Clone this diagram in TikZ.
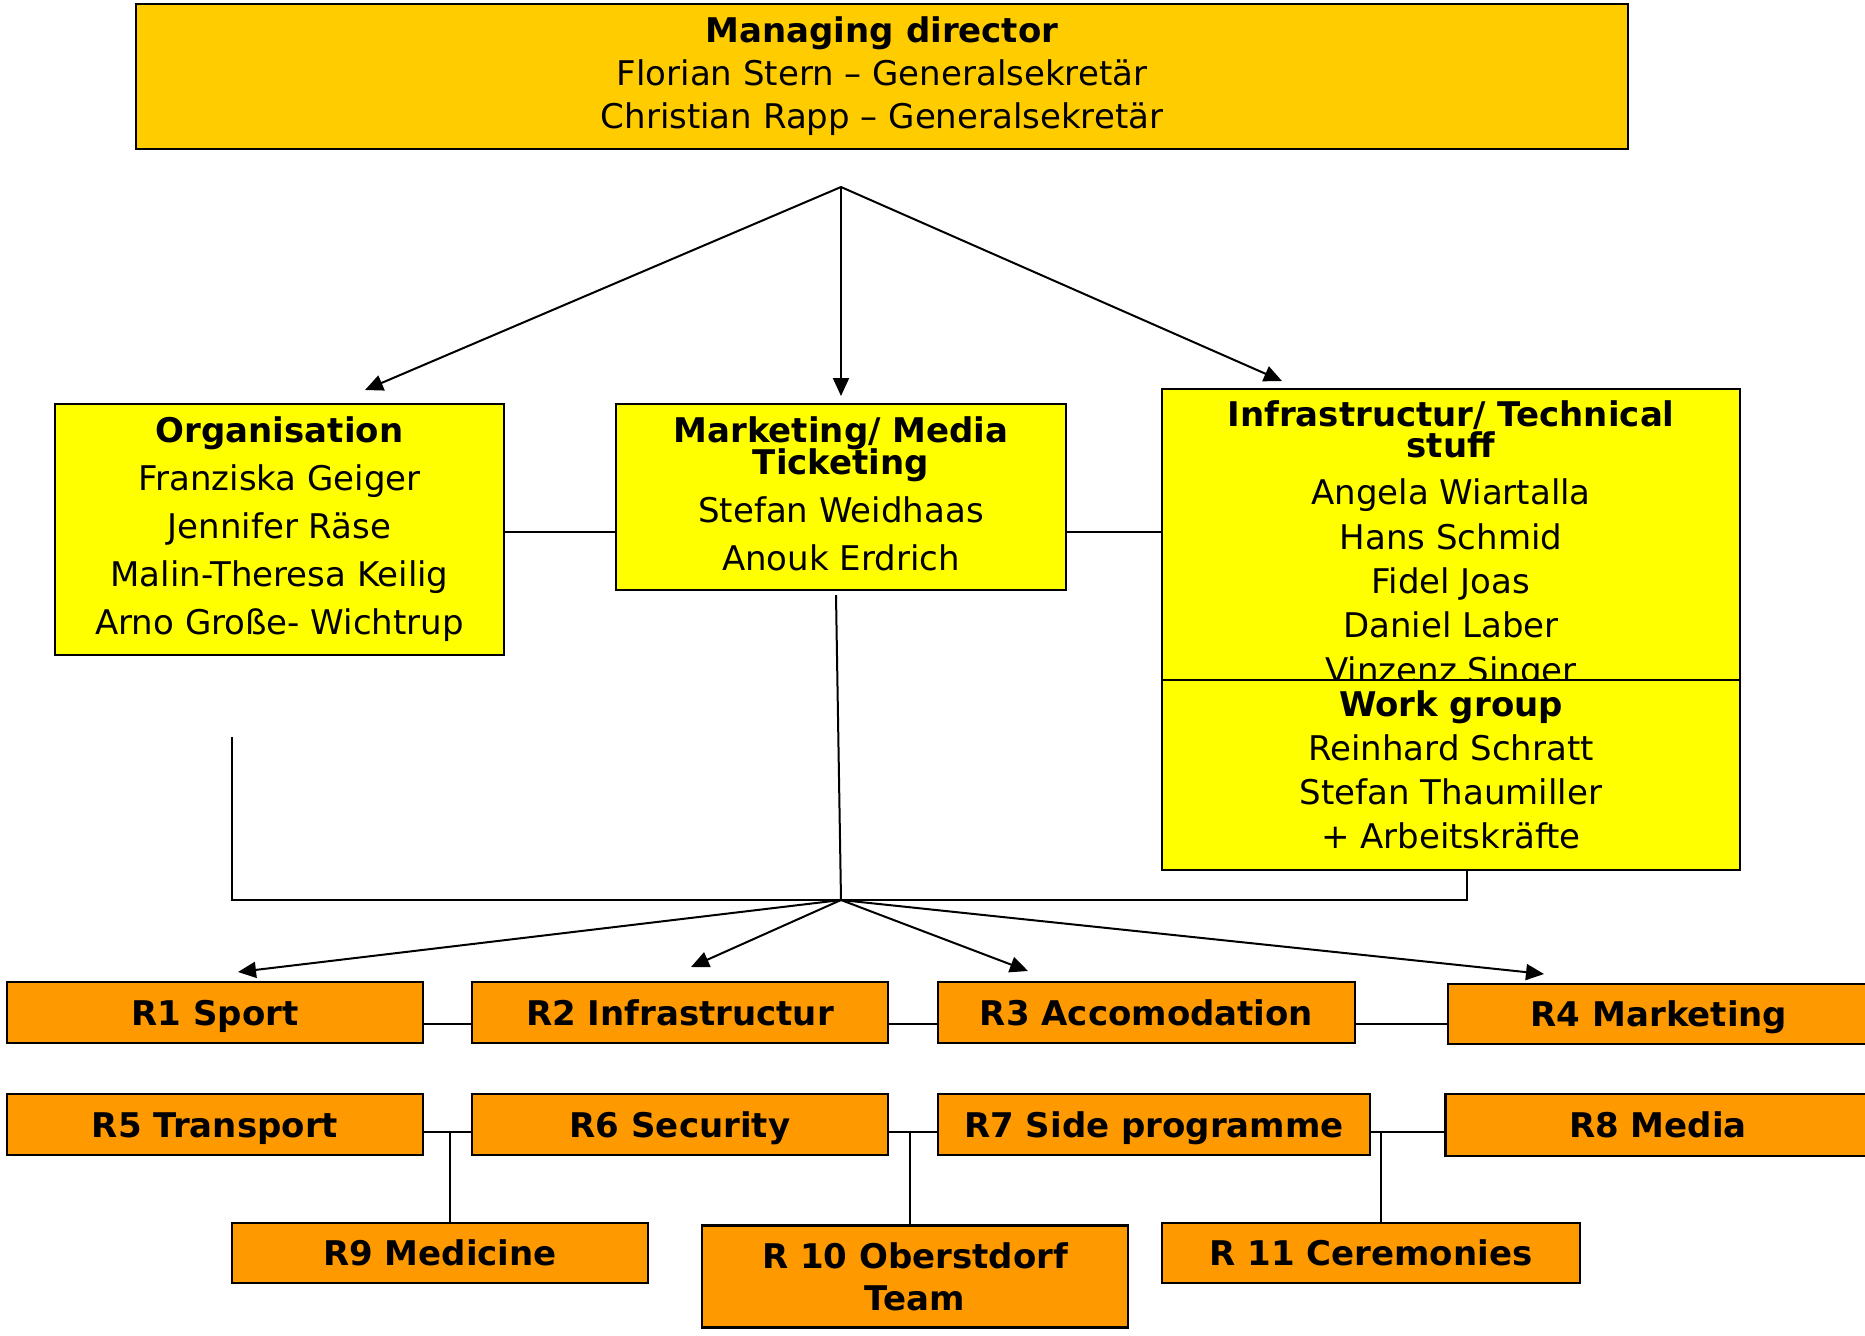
\documentclass[tikz,border=0pt]{standalone}
\usepackage{fontspec}
\setmainfont{DejaVu Sans}
\usetikzlibrary{arrows.meta}
\definecolor{topgold}{HTML}{FFCC00}
\definecolor{yel}{HTML}{FFFF00}
\definecolor{org}{HTML}{FF9900}
\tikzset{
  basebox/.style={draw=black, line width=1.2pt, inner sep=0pt, outer sep=0pt, align=center,
    font=\fontsize{17}{24}\selectfont},
  topbox/.style={basebox, fill=topgold, font=\fontsize{17}{21.5}\selectfont},
  ybox/.style={basebox, fill=yel},
  rboxml/.style={basebox, fill=org, font=\bfseries\fontsize{17}{21}\selectfont},
  rbox/.style={rboxml, text height=16pt, text depth=3.2pt},
  conn/.style={draw=black, line width=1pt},
  arr/.style={conn, -{Triangle[length=9pt,width=8pt]}},
}
\begin{document}
\begin{tikzpicture}[x=0.5pt, y=-0.5pt]
\useasboundingbox (0,0) rectangle (1865,1335);

% top
\node[topbox, minimum width=746pt, minimum height=72.5pt] (md) at (882,76.5)
  {\textbf{Managing director}\\Florian Stern – Generalsekretär\\Christian Rapp – Generalsekretär};

% second level
\node[ybox, minimum width=224.5pt, minimum height=125.5pt] (orga) at (279.5,529.5)
  {\textbf{Organisation}\\Franziska Geiger\\Jennifer Räse\\Malin-Theresa Keilig\\Arno Große- Wichtrup};
\node[ybox, minimum width=225pt, minimum height=93pt] (mkt) at (841,497) {};
\node[align=center, anchor=north, inner sep=0pt, font=\fontsize{17}{24}\selectfont] (mkttext) at (841,416)
  {\textbf{Marketing/ Media}\\[-8pt]\textbf{Ticketing}\\Stefan Weidhaas\\Anouk Erdrich};
\node[ybox, minimum width=289pt, minimum height=179pt] (infra) at (1451,568) {};
\node[align=center, anchor=north, inner sep=0pt, font=\fontsize{17}{22.2}\selectfont] (infratext) at (1451,400)
  {\textbf{Infrastructur/ Technical}\\[-6.7pt]\textbf{stuff}\\[1.5pt]Angela Wiartalla\\Hans Schmid\\Fidel Joas\\Daniel Laber\\Vinzenz Singer};
\node[ybox, minimum width=289pt, minimum height=95pt] (wg) at (1451,775) {};
\node[align=center, anchor=north, inner sep=0pt, font=\fontsize{17}{22}\selectfont] (wgtext) at (1451,690)
  {\textbf{Work group}\\Reinhard Schratt\\Stefan Thaumiller\\+ Arbeitskräfte};

% R boxes
\node[rbox, minimum width=208pt, minimum height=30.5pt] (r1) at (215,1012.5) {R1 Sport};
\node[rbox, minimum width=208pt, minimum height=30.5pt] (r2) at (680,1012.5) {R2 Infrastructur};
\node[rbox, minimum width=208.5pt, minimum height=30.5pt] (r3) at (1146.5,1012.5) {R3 Accomodation};
\node[rbox, minimum width=211pt, minimum height=30pt] (r4) at (1659,1014) {R4 Marketing};
\node[rbox, minimum width=208pt, minimum height=30.5pt] (r5) at (215,1124.5) {R5 Transport};
\node[rbox, minimum width=208pt, minimum height=30.5pt] (r6) at (680,1124.5) {R6 Security};
\node[rbox, minimum width=216pt, minimum height=30.5pt] (r7) at (1154,1124.5) {R7 Side programme};
\node[rbox, minimum width=212.5pt, minimum height=31pt] (r8) at (1658,1125) {R8 Media};
\node[rbox, minimum width=208pt, minimum height=30pt] (r9) at (440,1253) {R9 Medicine};
\node[rboxml, minimum width=213pt, minimum height=51pt] (r10) at (915,1276.5) {R 10 Oberstdorf\\Team};
\node[rbox, minimum width=209pt, minimum height=30pt] (r11) at (1371,1253) {R 11 Ceremonies};

% coordinates
\coordinate (hubtop) at (841,187);
\coordinate (a1) at (365,390);
\coordinate (a2) at (841,396);
\coordinate (a3) at (1282,381);
\coordinate (mktbot) at (836,595);
\coordinate (hub) at (841,900);
\coordinate (brl) at (232,737);
\coordinate (brr) at (1467,900);
\coordinate (b1) at (238,972);
\coordinate (b2) at (691,967);
\coordinate (b3) at (1028,971);
\coordinate (b4) at (1544,974);
\coordinate (j1) at (450,1132);
\coordinate (j2) at (910,1132);
\coordinate (j3) at (1381,1132);

% top arrows
\draw[arr] (hubtop) -- (a1);
\draw[arr] (hubtop) -- (a2);
\draw[arr] (hubtop) -- (a3);

% horizontal links level 2
\draw[conn] ([yshift=-1pt]orga.east) -- ([yshift=-1pt]orga.east -| mkt.west);
\draw[conn] ([yshift=-1pt]orga.east -| mkt.east) -- ([yshift=-1pt]orga.east -| infra.west);

% down to hub
\draw[conn] (mktbot) -- (hub);
\draw[conn] (brl) -- (brl |- hub) -- (brr) -- (brr |- wg.south);

% lower arrows
\draw[arr] (hub) -- (b1);
\draw[arr] (hub) -- (b2);
\draw[arr] (hub) -- (b3);
\draw[arr] (hub) -- (b4);

% row links
\draw[conn] ([yshift=-5.5pt]r1.east) -- ([yshift=-5.5pt]r1.east -| r2.west);
\draw[conn] ([yshift=-5.5pt]r2.east) -- ([yshift=-5.5pt]r2.east -| r3.west);
\draw[conn] ([yshift=-5.5pt]r3.east) -- ([yshift=-5.5pt]r3.east -| r4.west);
\draw[conn] (j1 -| r5.east) -- (j1 -| r6.west);
\draw[conn] (j2 -| r6.east) -- (j2 -| r7.west);
\draw[conn] (j3 -| r7.east) -- (j3 -| r8.west);
\draw[conn] (j1) -- (j1 |- r9.north);
\draw[conn] (j2) -- (j2 |- r10.north);
\draw[conn] (j3) -- (j3 |- r11.north);
\end{tikzpicture}
\end{document}
